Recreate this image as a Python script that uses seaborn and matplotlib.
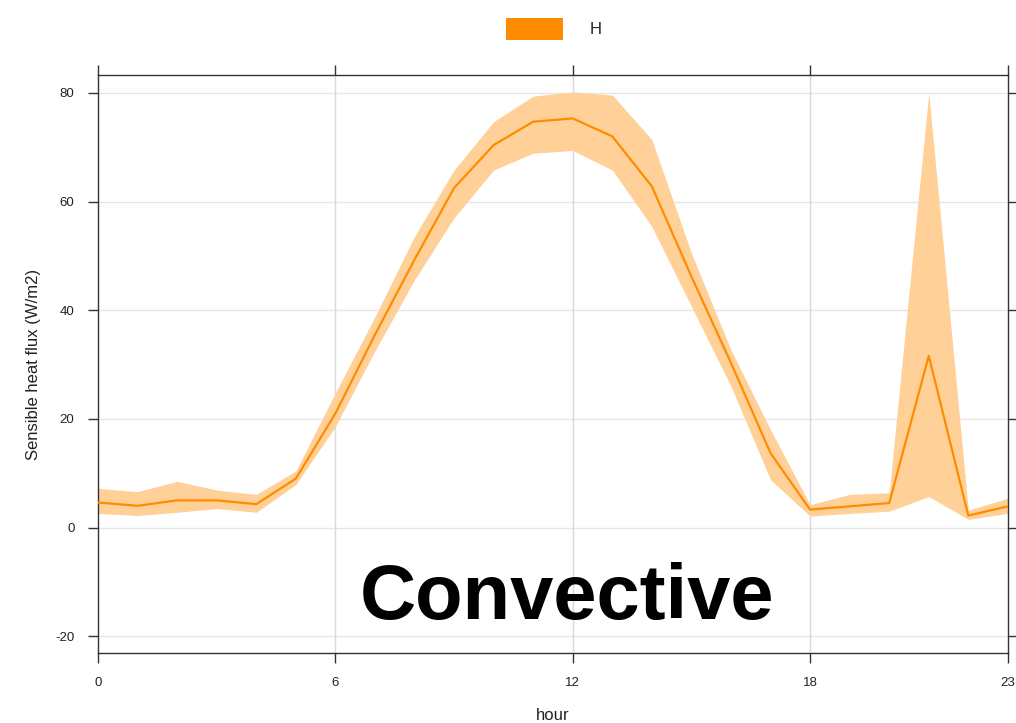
import numpy as np
import pandas as pd
import matplotlib
matplotlib.use("Agg")
import matplotlib.pyplot as plt
import seaborn as sns

hours = list(range(24))
h_mean = [4.6, 4.0, 5.0, 5.0, 4.3, 9.0, 21.0, 35.5, 49.3, 62.5, 70.4, 74.7,
          75.3, 72.0, 62.8, 46.2, 30.3, 13.7, 3.3, 3.9, 4.5, 31.6, 2.2, 3.9]
h_upper = [7.2, 6.6, 8.5, 6.9, 6.1, 10.4, 24.8, 38.8, 53.6, 65.8, 74.7, 79.4,
           80.2, 79.6, 71.4, 50.5, 32.7, 18.0, 4.2, 6.1, 6.4, 80.0, 3.2, 5.4]
h_lower = [2.6, 2.2, 2.8, 3.5, 2.8, 7.9, 18.6, 32.5, 45.6, 57.0, 65.8, 68.9,
           69.4, 65.8, 55.4, 40.7, 26.0, 8.8, 2.1, 2.6, 3.0, 5.7, 1.5, 2.6]
x_ticks = [0, 6, 12, 18, 23]
y_ticks = [-20, 0, 20, 40, 60, 80]
series_name = "H"
annotation = "Convective"

df = pd.DataFrame({"hour": hours, "H": h_mean, "upper": h_upper, "lower": h_lower})

sns.set_theme(style="white")
plt.rcParams["font.family"] = ["Liberation Sans", "DejaVu Sans"]

fig = plt.figure(figsize=(10.16, 7.23), dpi=100)
ax = fig.add_axes([0.0965, 0.0968, 0.8955, 0.7995])

line_color = "#FF8C00"
band_color = "#FFD199"

ax.fill_between(df["hour"], df["lower"], df["upper"], color=band_color, linewidth=0, zorder=2)
sns.lineplot(data=df, x="hour", y="H", ax=ax, color=line_color, linewidth=1.6, zorder=3, legend=False)

ax.set_xlim(0, 23)
ax.set_ylim(-23.1, 83.3)
ax.set_xticks(x_ticks)
ax.set_yticks(y_ticks)
ax.set_xticklabels([str(t) for t in x_ticks], fontsize=9.5, color="#222222")
ax.set_yticklabels([str(t) for t in y_ticks], fontsize=9.5, color="#222222")

ax.grid(True, axis="y", color="#e6e6e6", linewidth=1, zorder=0)
for xv in [6, 12, 18]:
    ax.axvline(xv, color="#d9d9d9", linewidth=1, zorder=1)
ax.set_axisbelow(True)

for s in ax.spines.values():
    s.set_visible(True)
    s.set_color("#333333")
    s.set_linewidth(1.0)

ax.tick_params(axis="both", which="both", direction="out", length=7, width=1,
               color="#333333", top=True, right=True, bottom=True, left=True,
               labeltop=False, labelright=False, pad=10)

ax.set_xlabel("hour", fontsize=12, color="#222222", labelpad=14)
ax.set_ylabel("Sensible heat flux (W/m2)", fontsize=12, color="#222222", labelpad=10)

ax.text(0.515, 0.095, annotation, transform=ax.transAxes, ha="center", va="center",
        fontsize=56, fontweight="bold", color="black", zorder=5)

# legend at top
from matplotlib.patches import Patch
handles = [Patch(facecolor=line_color, edgecolor="none", label=series_name)]
fig.legend(handles=handles, loc="center", bbox_to_anchor=(0.545, 0.96), frameon=False,
           handlelength=3.4, handleheight=1.6, handletextpad=1.6, fontsize=12)

fig.savefig("out.png", dpi=100)
